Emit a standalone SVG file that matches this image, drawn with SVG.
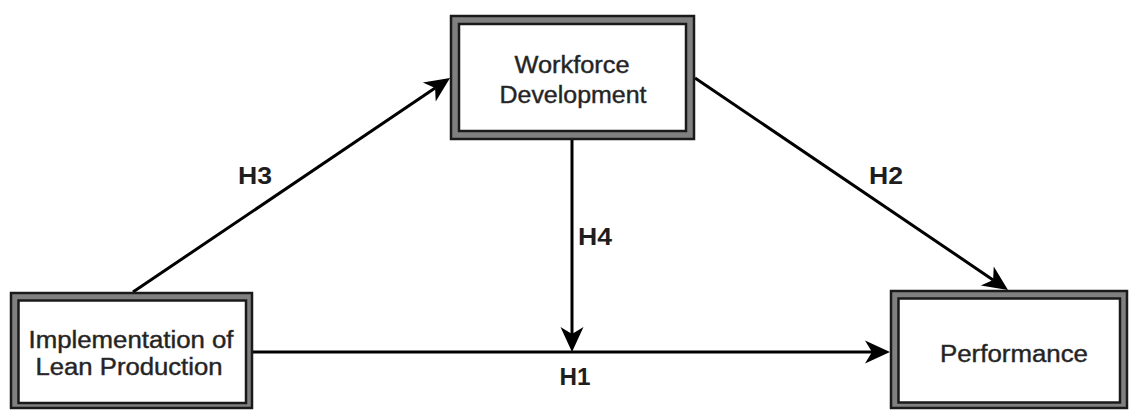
<svg xmlns="http://www.w3.org/2000/svg" width="1129" height="410" viewBox="0 0 1129 410">
<style>
.outer{fill:#808080;stroke:#1a1a1a;stroke-width:2.5}
.inner{fill:#ffffff;stroke:#1a1a1a;stroke-width:2.5}
.lbl{font-family:"Liberation Sans",Arial,sans-serif;font-size:23.5px;fill:#222;stroke:#333;stroke-width:0.45;text-anchor:middle}
.h{font-family:"Liberation Sans",Arial,sans-serif;font-size:23.5px;font-weight:bold;fill:#1e1e1e;text-anchor:middle}
.edge{stroke:#000;stroke-width:3;fill:none}
</style>
<defs>
<marker id="arr" markerUnits="userSpaceOnUse" markerWidth="26" markerHeight="24" refX="7" refY="11.5" orient="auto" overflow="visible">
<path d="M0,0 L25,11.5 L0,23 L7,11.5 Z" fill="#000"/>
</marker>
</defs>
<rect width="1129" height="410" fill="#ffffff"/>
<g id="connectors">
<line class="edge" x1="133" y1="292" x2="435.1" y2="88.1" marker-end="url(#arr)"/>
<line class="edge" x1="695" y1="78" x2="993.1" y2="279.9" marker-end="url(#arr)"/>
<line class="edge" x1="572" y1="140" x2="572" y2="334" marker-end="url(#arr)"/>
<line class="edge" x1="253" y1="352" x2="872" y2="352" marker-end="url(#arr)"/>
<text class="h" x="255" y="184" textLength="34" lengthAdjust="spacingAndGlyphs">H3</text>
<text class="h" x="886" y="184" textLength="34" lengthAdjust="spacingAndGlyphs">H2</text>
<text class="h" x="595" y="245" textLength="34" lengthAdjust="spacingAndGlyphs">H4</text>
<text class="h" x="575" y="385" textLength="31" lengthAdjust="spacingAndGlyphs">H1</text>
</g>
<g id="workforce">
<rect class="outer" x="451" y="16" width="243" height="123"/>
<rect class="inner" x="459" y="24" width="227" height="107"/>
<text class="lbl" x="572" y="73" textLength="115" lengthAdjust="spacingAndGlyphs">Workforce</text>
<text class="lbl" x="573" y="103" textLength="147" lengthAdjust="spacingAndGlyphs">Development</text>
</g>
<g id="lean">
<rect class="outer" x="11" y="293" width="241" height="115"/>
<rect class="inner" x="18.5" y="300.5" width="227.5" height="102.5"/>
<text class="lbl" x="131" y="348" textLength="205" lengthAdjust="spacingAndGlyphs">Implementation of</text>
<text class="lbl" x="129" y="375" textLength="187" lengthAdjust="spacingAndGlyphs">Lean Production</text>
</g>
<g id="performance">
<rect class="outer" x="891" y="291" width="236" height="117"/>
<rect class="inner" x="898.5" y="298.5" width="221.5" height="104"/>
<text class="lbl" x="1014" y="362" textLength="148" lengthAdjust="spacingAndGlyphs">Performance</text>
</g>
</svg>
